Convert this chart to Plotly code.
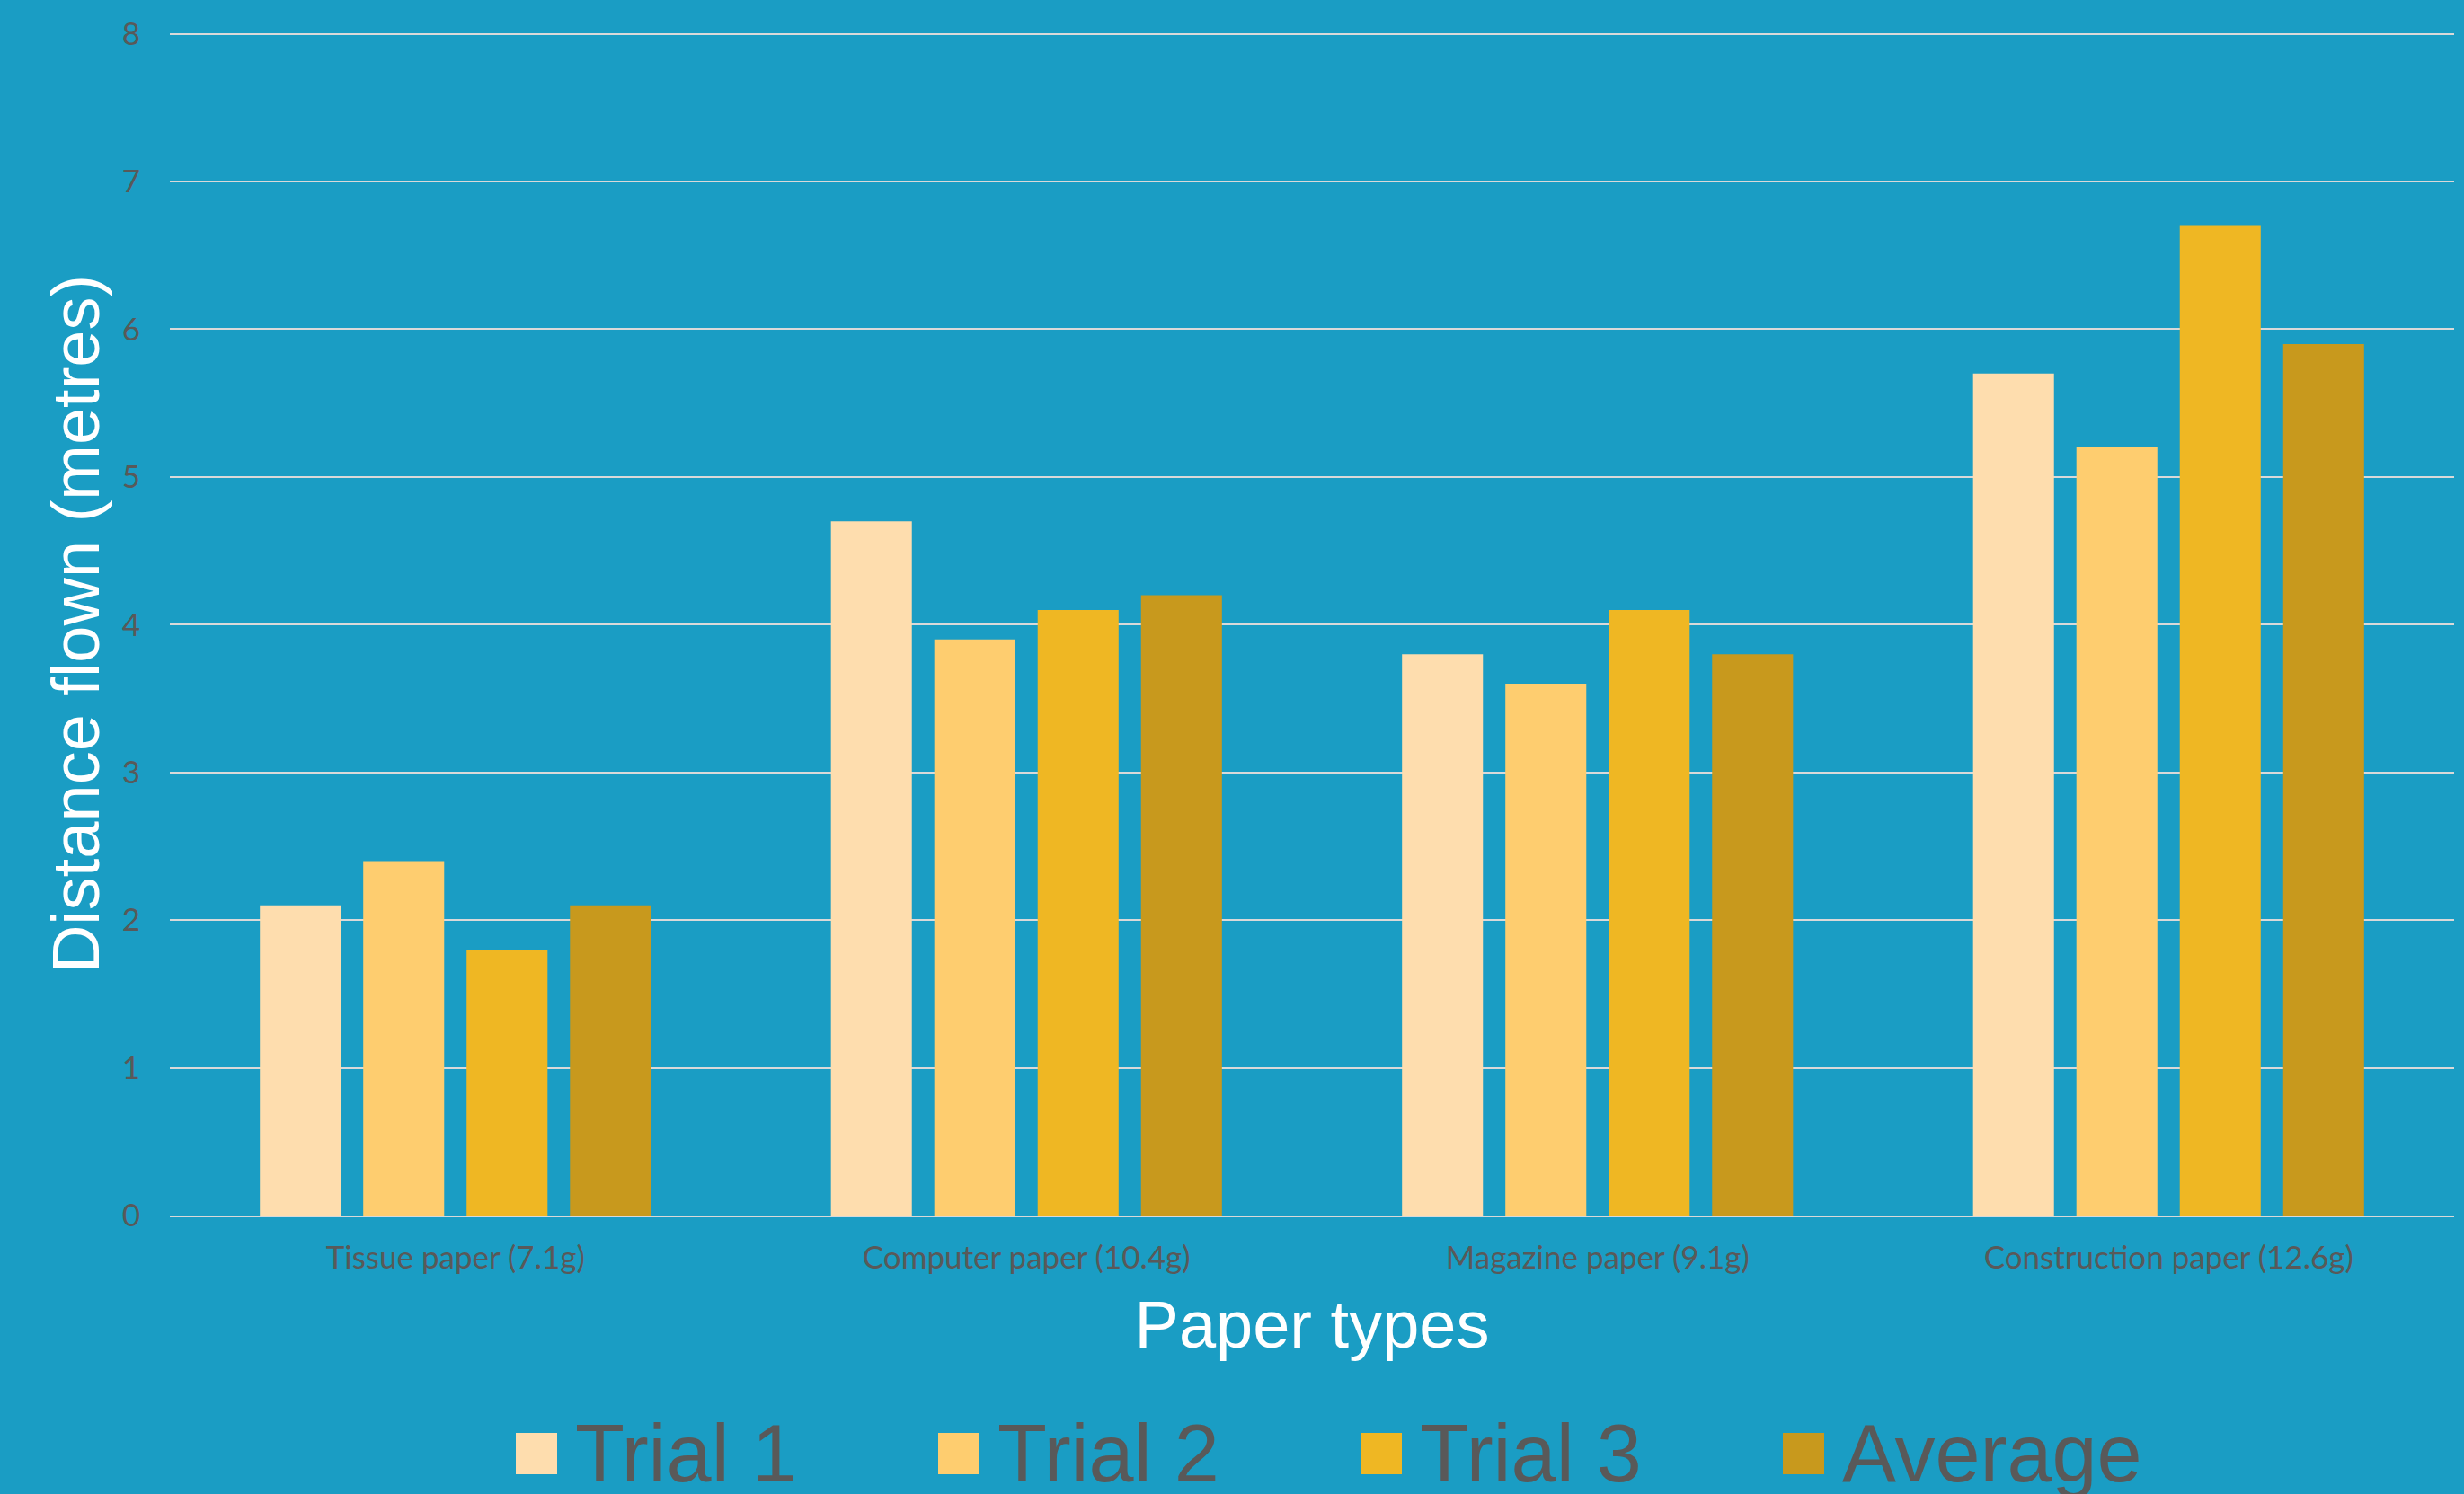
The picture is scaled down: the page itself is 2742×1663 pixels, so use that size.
import plotly.graph_objects as go

categories = ["Tissue paper (7.1g)", "Computer paper (10.4g)", "Magazine paper (9.1g)", "Construction paper (12.6g)"]
series_names = ["Trial 1", "Trial 2", "Trial 3", "Average"]
trial1 = [2.1, 4.7, 3.8, 5.7]
trial2 = [2.4, 3.9, 3.6, 5.2]
trial3 = [1.8, 4.1, 4.1, 6.7]
average = [2.1, 4.2, 3.8, 5.9]
y_ticks = [0, 1, 2, 3, 4, 5, 6, 7, 8]

colors = ["#FEDDAE", "#FECD6F", "#EFB723", "#C8991D"]
values = [trial1, trial2, trial3, average]

BG = "#1A9DC4"
GRID = "#D9D9D9"
TXT = "#595959"

W, H = 2742, 1663
ML, MR, MT, MB = 189, 11, 36, 310

fig = go.Figure()
for name, vals, col in zip(series_names, values, colors):
    fig.add_trace(go.Bar(name=name, x=categories, y=vals, marker=dict(color=col, line=dict(width=0)),
                         showlegend=False))

# manual legend (large symbols)
plot_h = H - MT - MB
plot_w = W - ML - MR
legend_y_px = 1618
sq = 46
sq_x = [574, 1044, 1514, 1984]
for name, col, x0 in zip(series_names, colors, sq_x):
    x0p = (x0 - ML) / plot_w
    x1p = (x0 + sq - ML) / plot_w
    y0p = (H - MB - (legend_y_px + sq / 2)) / plot_h
    y1p = (H - MB - (legend_y_px - sq / 2)) / plot_h
    fig.add_shape(type="rect", xref="paper", yref="paper", x0=x0p, x1=x1p, y0=y0p, y1=y1p,
                  fillcolor=col, line=dict(width=0))
    fig.add_annotation(xref="paper", yref="paper", x=(x0 + sq + 18 - ML) / plot_w,
                       y=(H - MB - legend_y_px) / plot_h, xanchor="left", yanchor="middle",
                       text=name, showarrow=False,
                       font=dict(family="Liberation Sans, Arial", size=90, color=TXT))

fig.update_layout(
    width=W, height=H,
    paper_bgcolor=BG, plot_bgcolor=BG,
    margin=dict(l=ML, r=MR, t=MT, b=MB),
    barmode="group", bargap=0.276, bargroupgap=0.217,
    showlegend=False,
    xaxis=dict(
        title=dict(text="Paper types", font=dict(family="Liberation Sans, Arial", size=74, color="white"), standoff=30),
        tickfont=dict(family="Lato", size=35, color=TXT),
        showgrid=False, showline=True, linecolor=GRID, linewidth=2,
        ticks="outside", ticklen=15, tickcolor="rgba(0,0,0,0)",
    ),
    yaxis=dict(
        title=dict(text="Distance flown (metres)", font=dict(family="Liberation Sans, Arial", size=74, color="white"), standoff=0),
        range=[0, 8.01], tickvals=y_ticks, ticktext=[str(v) for v in y_ticks],
        tickfont=dict(family="Lato", size=35, color=TXT),
        showgrid=True, gridcolor=GRID, gridwidth=2, zeroline=False,
        ticks="outside", ticklen=25, tickcolor="rgba(0,0,0,0)",
    ),
)

fig.write_html("out.html", config={"displayModeBar": False})

with open("out.html", "r", encoding="utf-8") as f:
    html = f.read()
html = html.replace("<head>", "<head><style>html,body{margin:0;padding:0;background:%s;overflow:hidden;}</style>" % BG, 1)
with open("out.html", "w", encoding="utf-8") as f:
    f.write(html)
